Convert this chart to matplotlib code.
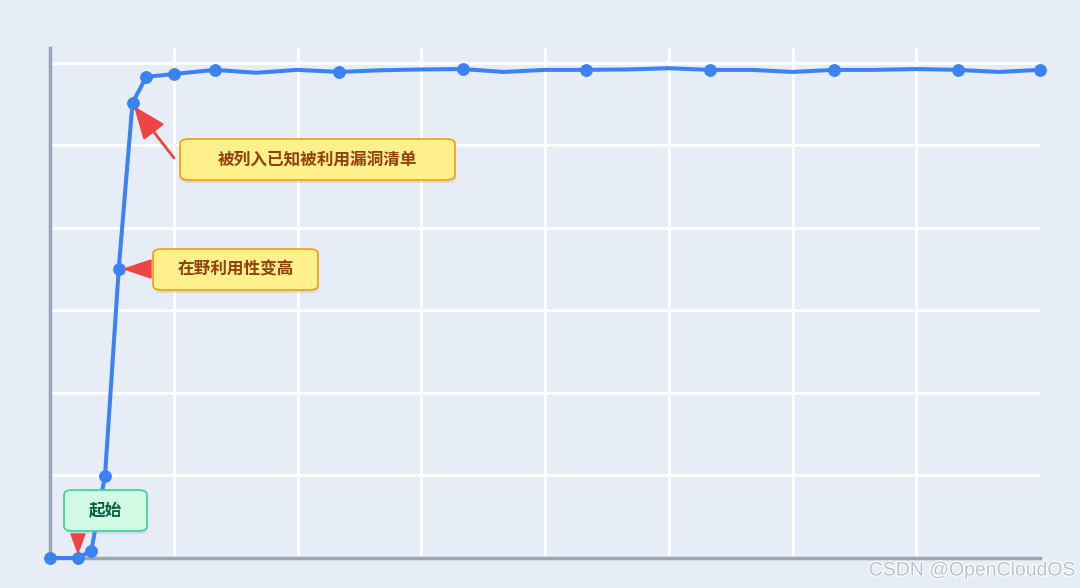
import matplotlib
matplotlib.use('Agg')
import matplotlib.pyplot as plt
import matplotlib.patheffects as pe
from matplotlib.patches import FancyBboxPatch, Polygon

plt.rcParams['font.family'] = ['Noto Sans CJK SC', 'DejaVu Sans']

# data: time steps and exploitation level
x_vals = [0, 2, 3, 4, 5, 6, 7, 9, 12, 15, 18, 21, 24, 27, 30, 33, 36, 39, 42, 45,
          48, 51, 54, 57, 60, 63, 66, 69, 72]
y_vals = [0, 0, 1.7, 19.9, 70.1, 110.3, 116.6, 117.3, 118.3, 117.6, 118.3, 117.8,
          118.2, 118.4, 118.5, 117.8, 118.3, 118.3, 118.4, 118.7, 118.3, 118.3,
          117.8, 118.3, 118.3, 118.5, 118.3, 117.8, 118.3]
marker_x = [0, 2, 3, 4, 5, 6, 7, 9, 12, 21, 30, 39, 48, 57, 66, 72]

labels = ['起始', '在野利用性变高', '被列入已知被利用漏洞清单']

bg = '#e6edf6'
blue = '#3b82f6'
red = '#ef4444'

W, H = 1080, 588
fig = plt.figure(figsize=(W / 100, H / 100), dpi=100, facecolor=bg)
ax = fig.add_axes([50 / W, 30 / H, 990 / W, 510 / H])
ax.set_facecolor(bg)

ax.set_xlim(0, 72)
ax.set_ylim(0, 123.6)
ax.set_xticks(range(0, 72, 9))
ax.set_yticks(range(0, 121, 20))
ax.grid(True, color='white', linewidth=2)
ax.set_axisbelow(True)
ax.tick_params(length=0, labelbottom=False, labelleft=False)
for s in ['top', 'right']:
    ax.spines[s].set_visible(False)
for s in ['left', 'bottom']:
    ax.spines[s].set_color('#9aa6b8')
    ax.spines[s].set_linewidth(2.5)

ax.plot(x_vals, y_vals, color=blue, linewidth=2.9, clip_on=False, zorder=3,
        solid_joinstyle='round')
my = [y_vals[x_vals.index(v)] for v in marker_x]
ax.plot(marker_x, my, 'o', color=blue, markersize=8.2, clip_on=False, zorder=4)


def fx(px):
    return px / W


def fy(py):
    return 1 - py / H


def box(x0, y0, x1, y1, text, face, edge, tcolor):
    sh = FancyBboxPatch((fx(x0 + 1), fy(y1 + 3)), fx(x1 - x0), (y1 - y0) / H,
                        boxstyle='round,pad=0,rounding_size=0.008',
                        transform=fig.transFigure, facecolor='#9aa6b8',
                        alpha=0.25, edgecolor='none', zorder=5)
    fig.add_artist(sh)
    p = FancyBboxPatch((fx(x0), fy(y1)), fx(x1 - x0), (y1 - y0) / H,
                       boxstyle='round,pad=0,rounding_size=0.008',
                       transform=fig.transFigure, facecolor=face,
                       edgecolor=edge, linewidth=1.2, zorder=6)
    fig.add_artist(p)
    fig.text(fx((x0 + x1) / 2), fy((y0 + y1) / 2), text, ha='center', va='center',
             fontsize=12, fontweight='bold', color=tcolor, zorder=7)


box(64, 490, 147, 531, labels[0], '#d1fae5', '#34d399', '#065f46')
box(153, 249, 318, 290, labels[1], '#fef08a', '#f59e0b', '#92400e')
box(180, 139, 455, 180, labels[2], '#fef08a', '#f59e0b', '#92400e')

# pointer triangles
fig.add_artist(Polygon([(fx(71), fy(534)), (fx(85), fy(534)), (fx(78), fy(553))],
                       closed=True, transform=fig.transFigure, color=red, zorder=6))
fig.add_artist(Polygon([(fx(151), fy(260)), (fx(151), fy(278)), (fx(124), fy(269))],
                       closed=True, transform=fig.transFigure, color=red, zorder=6))

ax.annotate('', xy=(6.1, 109.5), xycoords='data',
            xytext=(fx(174), fy(158)), textcoords='figure fraction',
            arrowprops=dict(arrowstyle='-|>,head_length=2.0,head_width=0.8',
                            color=red, lw=2, shrinkA=0, shrinkB=0), zorder=6)

fig.text(fx(1076), fy(571), 'CSDN @OpenCloudOS', ha='right', va='center',
         fontsize=14, color='#bcc2cb', family='Liberation Sans',
         path_effects=[pe.withStroke(linewidth=1.5, foreground='white')])

fig.savefig('out.png', dpi=100, facecolor=bg)
